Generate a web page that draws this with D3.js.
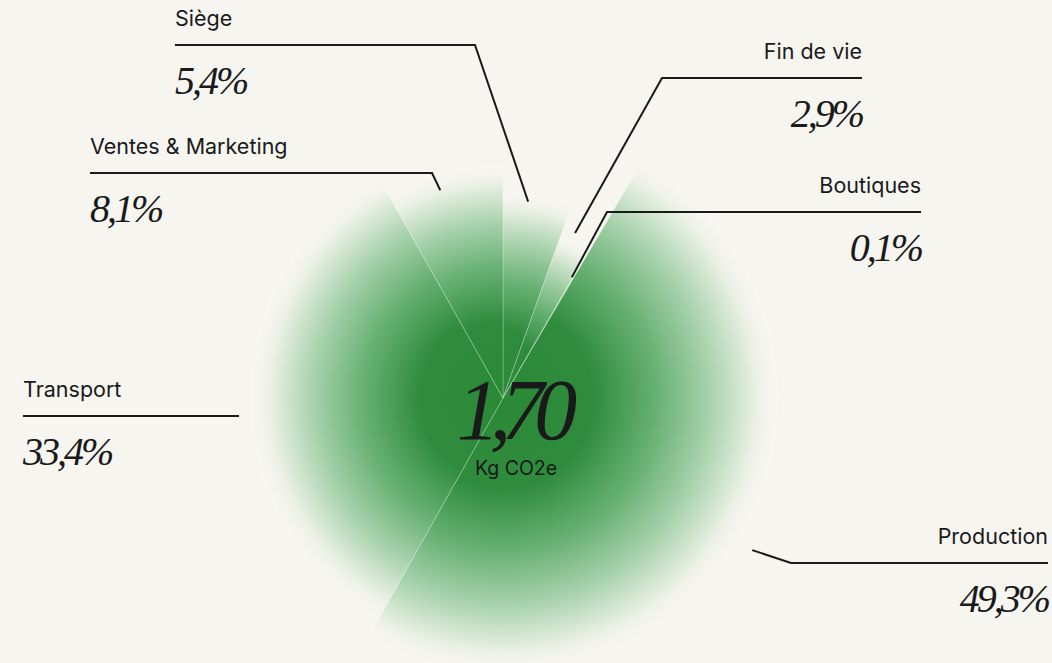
<!DOCTYPE html>
<meta charset="utf-8">
<script src="https://d3js.org/d3.v7.min.js"></script>
<style>
  html, body {
    margin: 0;
    padding: 0;
    background: #f6f5f0;
  }
  .label {
    font-family: Inter, "Noto Sans", sans-serif;
    font-size: 21.5px;
    fill: #1a1a1a;
  }
  .pct {
    font-family: "Liberation Serif", serif;
    font-style: italic;
    font-size: 40px;
    letter-spacing: -3px;
    fill: #1a1a1a;
  }
  .leader {
    fill: none;
    stroke: #1a1a1a;
    stroke-width: 2;
  }
</style>
<svg id="chart" width="1052" height="663"></svg>
<script>

  // data, clockwise from 12 o'clock
  var categories = ["Siège", "Fin de vie", "Boutiques", "Production", "Transport", "Ventes & Marketing"];
  var shares = [5.4, 2.9, 0.1, 49.3, 33.4, 8.1];
  var pctLabels = ["5,4%", "2,9%", "0,1%", "49,3%", "33,4%", "8,1%"];
  // outer radius of each slice
  var radii = [205, 172, 150, 274, 252, 232];
  var totalLabel = "1,70";
  var unitLabel = "Kg CO2e";

  // where each label sits and where its leader line points
  var labelLayout = [
    { lineY: 45, x: 175, elbowX: 475, anchor: "start", tipA: 7.3, tipR: 198 },
    { lineY: 78, x: 862, elbowX: 662, anchor: "end", tipA: 23.6, tipR: 180 },
    { lineY: 212, x: 921, elbowX: 607, anchor: "end", tipA: 29.7, tipR: 139 },
    { lineY: 563, x: 1048, elbowX: 791, anchor: "end", tipA: 121.4, tipR: 292 },
    { lineY: 416, x: 23, elbowX: 239, anchor: "start", tipA: null, tipR: null },
    { lineY: 173, x: 90, elbowX: 432, anchor: "start", tipA: 343.2, tipR: 217 }
  ];

  var svg = d3.select("#chart");
  var cx = 503, cy = 398;

  var slices = categories.map(function (c, i) {
    return { name: c, value: shares[i], r: radii[i], pct: pctLabels[i], layout: labelLayout[i], i: i };
  });

  var pie = d3.pie().sort(null).value(function (d) { return d.value; });
  var arcs = pie(slices);

  var arc = d3.arc()
    .innerRadius(0)
    .outerRadius(function (d) { return d.data.r; });

  // one radial gradient per slice, sized to its own radius
  var defs = svg.append("defs");
  var stops = [
    [0, "#2a8937", 1],
    [0.33, "#2f8c3d", 1],
    [0.56, "#68b174", 1],
    [0.75, "#a6d1ab", 1],
    [0.9, "#e0ecdb", 1],
    [1, "#f6f5f0", 0]
  ];
  arcs.forEach(function (d) {
    var g = defs.append("radialGradient")
      .attr("id", "grad" + d.data.i)
      .attr("gradientUnits", "userSpaceOnUse")
      .attr("cx", 0).attr("cy", 0)
      .attr("r", d.data.r);
    g.selectAll("stop")
      .data(stops)
      .enter()
      .append("stop")
      .attr("offset", function (s) { return s[0]; })
      .attr("stop-color", function (s) { return s[1]; })
      .attr("stop-opacity", function (s) { return s[2]; });
  });

  var pieG = svg.append("g").attr("transform", "translate(" + cx + "," + cy + ")");

  pieG.selectAll("path")
    .data(arcs)
    .enter()
    .append("path")
    .attr("d", arc)
    .attr("fill", function (d) { return "url(#grad" + d.data.i + ")"; })
    .style("stroke", "rgba(255,255,255,0.3)")
    .style("stroke-width", 0.8);

  // center text
  svg.append("text")
    .attr("x", 512)
    .attr("y", 439)
    .attr("text-anchor", "middle")
    .style("font-family", "'Liberation Serif', serif")
    .style("font-style", "italic")
    .style("font-size", "86px")
    .style("letter-spacing", "-10px")
    .style("fill", "#1a1a1a")
    .text(totalLabel);

  svg.append("text")
    .attr("x", 516)
    .attr("y", 475)
    .attr("text-anchor", "middle")
    .style("font-family", "Inter, sans-serif")
    .style("font-size", "19.5px")
    .style("fill", "#1a1a1a")
    .text(unitLabel);

  function polar(deg, r) {
    var a = deg * Math.PI / 180;
    return [cx + r * Math.sin(a), cy - r * Math.cos(a)];
  }

  // labels and leader lines
  var lab = svg.append("g");
  slices.forEach(function (d) {
    var L = d.layout;
    var pts = [[L.x, L.lineY], [L.elbowX, L.lineY]];
    if (L.tipA !== null) pts.push(polar(L.tipA, L.tipR));
    lab.append("path")
      .attr("class", "leader")
      .attr("d", d3.line()(pts));

    lab.append("text")
      .attr("class", "label")
      .attr("x", L.x)
      .attr("y", L.lineY - 19)
      .attr("text-anchor", L.anchor)
      .text(d.name);

    lab.append("text")
      .attr("class", "pct")
      .attr("x", L.x)
      .attr("y", L.lineY + 49)
      .attr("text-anchor", L.anchor)
      .text(d.pct);
  });

</script>
